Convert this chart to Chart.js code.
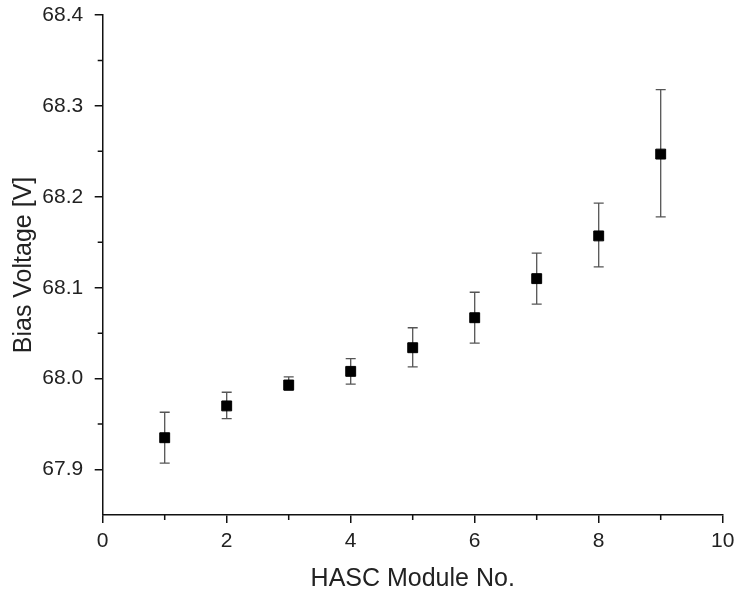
<!DOCTYPE html>
<html><head><meta charset="utf-8">
<script src="https://cdn.jsdelivr.net/npm/chart.js@4/dist/chart.umd.min.js"></script>
<style>html,body{margin:0;padding:0;background:#fff;}#wrap{width:735px;height:592px;}</style>
</head><body><div id="wrap"><canvas id="c" width="735" height="592"></canvas></div>
<script>
const modules = [1, 2, 3, 4, 5, 6, 7, 8, 9];
const biasVoltage = [67.935, 67.970, 67.993, 68.008, 68.034, 68.067, 68.110, 68.157, 68.247];
const errLow = [67.907, 67.956, 67.987, 67.994, 68.013, 68.039, 68.082, 68.123, 68.178];
const errHigh = [67.963, 67.985, 68.002, 68.022, 68.056, 68.095, 68.138, 68.193, 68.318];
const xTickValues = [0, 2, 4, 6, 8, 10];
const xMinorTicks = [1, 3, 5, 7, 9];
const yTickValues = [67.9, 68.0, 68.1, 68.2, 68.3, 68.4];
const yMinorTicks = [67.95, 68.05, 68.15, 68.25, 68.35];

const FONT = '"Liberation Sans", Arial, Helvetica, sans-serif';
const TXT = '#222';

const errorBarPlugin = {
  id: 'errorBars',
  beforeDatasetsDraw(chart) {
    const {ctx, scales: {x, y}} = chart;
    ctx.save();
    ctx.strokeStyle = '#555';
    ctx.lineWidth = 1.3;
    modules.forEach((m, i) => {
      const px = x.getPixelForValue(m);
      const lo = y.getPixelForValue(errLow[i]);
      const hi = y.getPixelForValue(errHigh[i]);
      ctx.beginPath();
      ctx.moveTo(px, lo); ctx.lineTo(px, hi);
      ctx.moveTo(px - 5, lo); ctx.lineTo(px + 5, lo);
      ctx.moveTo(px - 5, hi); ctx.lineTo(px + 5, hi);
      ctx.stroke();
    });
    ctx.restore();
  }
};

const minorTickPlugin = {
  id: 'minorTicks',
  afterDraw(chart) {
    const {ctx, scales: {x, y}} = chart;
    ctx.save();
    ctx.strokeStyle = '#111';
    ctx.lineWidth = 1.5;
    ctx.beginPath();
    xMinorTicks.forEach(v => {
      const px = x.getPixelForValue(v);
      ctx.moveTo(px, x.top); ctx.lineTo(px, x.top + 5);
    });
    yMinorTicks.forEach(v => {
      const py = y.getPixelForValue(v);
      ctx.moveTo(y.right, py); ctx.lineTo(y.right - 5, py);
    });
    ctx.stroke();
    ctx.restore();
  }
};

new Chart(document.getElementById('c'), {
  type: 'scatter',
  data: {
    datasets: [{
      data: modules.map((m, i) => ({x: m, y: biasVoltage[i]})),
      pointStyle: 'rect',
      pointRadius: 7,
      pointHoverRadius: 7,
      backgroundColor: '#000',
      borderColor: '#000',
      borderWidth: 1
    }]
  },
  options: {
    responsive: false,
    animation: false,
    devicePixelRatio: 1,
    layout: {padding: {top: 15, right: 12.3, bottom: 0, left: 0}},
    plugins: {legend: {display: false}, tooltip: {enabled: false}},
    scales: {
      x: {
        type: 'linear',
        min: 0, max: 10,
        afterBuildTicks(scale) { scale.ticks = xTickValues.map(v => ({value: v})); },
        afterFit(scale) { scale.height = 77; scale.paddingLeft = 0; scale.paddingRight = 0; },
        border: {display: true, color: '#111', width: 1.5},
        grid: {display: true, drawOnChartArea: false, drawTicks: true, tickLength: 8, tickColor: '#111', lineWidth: 1.5},
        ticks: {color: TXT, font: {family: FONT, size: 21}, padding: 6, maxRotation: 0,
          callback: v => String(v)},
        title: {display: true, text: 'HASC Module No.', color: TXT,
          font: {family: FONT, size: 25, lineHeight: 1}, padding: {top: 0, bottom: 0.5}}
      },
      y: {
        type: 'linear',
        min: 67.85, max: 68.4,
        afterBuildTicks(scale) { scale.ticks = yTickValues.map(v => ({value: v})); },
        afterFit(scale) { scale.width = 102.7; scale.paddingTop = 0; scale.paddingBottom = 0; },
        border: {display: true, color: '#111', width: 1.5},
        grid: {display: true, drawOnChartArea: false, drawTicks: true, tickLength: 8, tickColor: '#111', lineWidth: 1.5},
        ticks: {color: TXT, font: {family: FONT, size: 21}, padding: 11.5,
          callback: v => Number(v).toFixed(1)},
        title: {display: true, text: 'Bias Voltage [V]', color: TXT,
          font: {family: FONT, size: 25, lineHeight: 1}, padding: {top: 11.5, bottom: 0}}
      }
    }
  },
  plugins: [errorBarPlugin, minorTickPlugin]
});
</script>
</body></html>
